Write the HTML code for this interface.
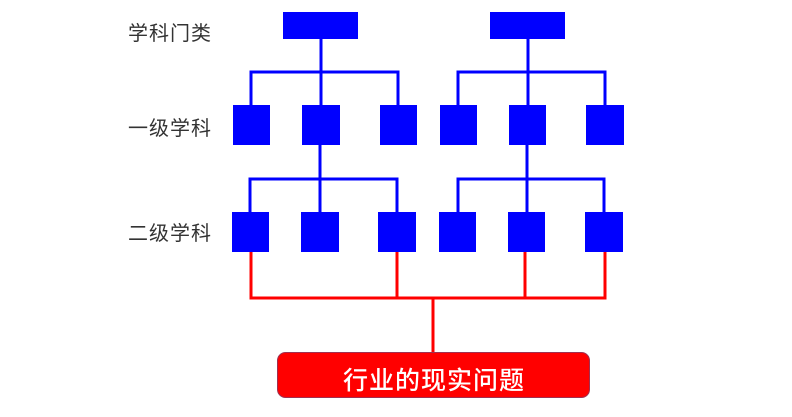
<!DOCTYPE html>
<html><head><meta charset="utf-8"><style>
html,body{margin:0;padding:0;background:#fff;width:792px;height:417px;overflow:hidden}
</style></head><body>
<svg width="792" height="417" xmlns="http://www.w3.org/2000/svg">
<g font-family="Liberation Sans, Noto Sans CJK SC, sans-serif" font-size="20" fill="#333" letter-spacing="1">
<text x="128" y="40">学科门类</text>
<text x="128" y="135">一级学科</text>
<text x="128" y="240">二级学科</text>
</g>
<g stroke="#0000ff" stroke-width="3" fill="none">
<path d="M321 39V72M251 105V72H398V105M321 72V105"/>
<path d="M528 39V72M458 105V72H605V105M528 72V105"/>
<path d="M320 145V179M250 212V179H397V212M320 179V212"/>
<path d="M527 145V179M458 212V179H604V212M527 179V212"/>
</g>
<g fill="#0000ff">
<rect x="283" y="12" width="75" height="27"/>
<rect x="490" y="12" width="75" height="27"/>
<rect x="233" y="105" width="37" height="40"/>
<rect x="302" y="105" width="38" height="40"/>
<rect x="380" y="105" width="37" height="40"/>
<rect x="440" y="105" width="37" height="40"/>
<rect x="509" y="105" width="37" height="40"/>
<rect x="586" y="105" width="38" height="40"/>
<rect x="232" y="212" width="37" height="40"/>
<rect x="301" y="212" width="38" height="40"/>
<rect x="378" y="212" width="38" height="40"/>
<rect x="439" y="212" width="37" height="40"/>
<rect x="508" y="212" width="37" height="40"/>
<rect x="585" y="212" width="38" height="40"/>
</g>
<g stroke="#ff0000" stroke-width="3" fill="none">
<path d="M251 252V298H605V252M397 252V298M525 252V298M433 298V352"/>
</g>
<rect x="277.5" y="352.5" width="312" height="45" rx="8" fill="#ff0000" stroke="#a03050" stroke-width="1"/>
<text x="434" y="389" text-anchor="middle" font-family="Liberation Sans, Noto Sans CJK SC, sans-serif" font-size="25" font-weight="500" letter-spacing="1" fill="#fff">行业的现实问题</text>
</svg>
</body></html>
